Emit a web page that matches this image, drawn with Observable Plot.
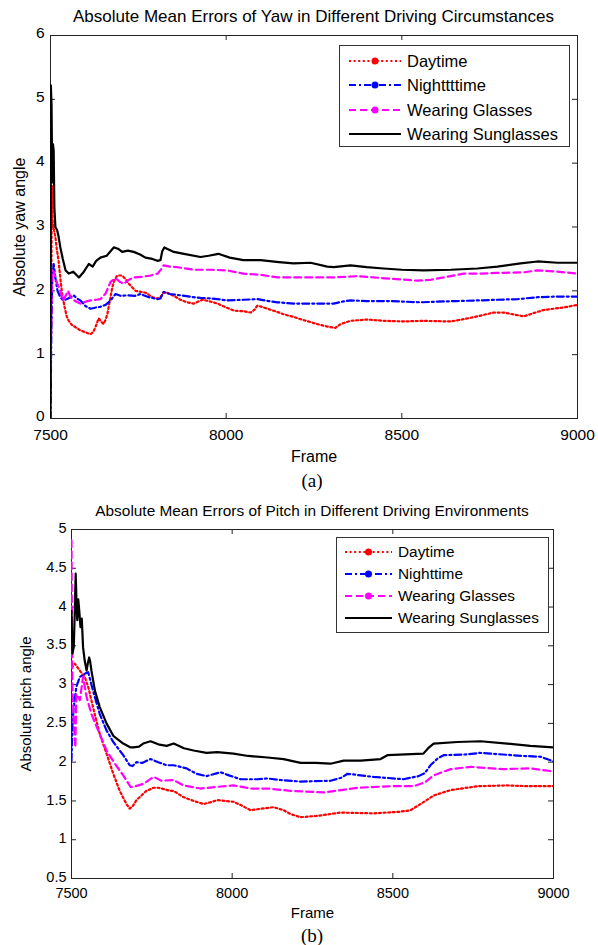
<!DOCTYPE html>
<html>
<head>
<meta charset="utf-8">
<script src="https://cdn.jsdelivr.net/npm/d3@7"></script>
<script src="https://cdn.jsdelivr.net/npm/@observablehq/plot@0.6"></script>
<style>
  html, body { margin: 0; padding: 0; background: #fff; }
  #page { position: relative; width: 598px; height: 945px; overflow: hidden; font-family: "Liberation Sans", Arial, Helvetica, sans-serif; color: #000; }
  .title { position: absolute; text-align: center; white-space: nowrap; line-height: 1; }
  .sub { position: absolute; font-family: "Liberation Serif", "Times New Roman", serif; font-size: 19px; line-height: 1; text-align: center; width: 40px; }
  .legend { position: absolute; background: #fff; border: 1px solid #333; box-sizing: border-box; }
  .legend svg { position: absolute; overflow: visible; }
  .legend span { position: absolute; }
  .chart { position: absolute; left: 0; }
</style>
</head>
<body>
<div id="page"></div>
<script>
// ---------- data ----------
const seriesNames = ["Daytime", "Nighttime", "Wearing Glasses", "Wearing Sunglasses"];
const legendNamesYaw = ["Daytime", "Nighttttime", "Wearing Glasses", "Wearing Sunglasses"];
const legendNamesPitch = ["Daytime", "Nighttime", "Wearing Glasses", "Wearing Sunglasses"];
const xTicks = [7500, 8000, 8500, 9000];
const yTicksYaw = [0, 1, 2, 3, 4, 5, 6];
const yTicksPitch = [0.5, 1, 1.5, 2, 2.5, 3, 3.5, 4, 4.5, 5];

// (a) Yaw: [frame, absolute mean error]
const yawDaytime = [[7500,0.3],[7502,2.0],[7504,3.65],[7506,3.1],[7510,2.95],[7514,2.84],[7518,2.65],[7523,2.47],[7528,2.2],[7533,1.95],[7540,1.75],[7546,1.6],[7552,1.53],[7560,1.47],[7571,1.43],[7585,1.38],[7600,1.35],[7614,1.32],[7622,1.36],[7628,1.43],[7637,1.57],[7644,1.52],[7651,1.48],[7657,1.55],[7662,1.64],[7669,1.85],[7676,2.06],[7683,2.18],[7690,2.24],[7704,2.24],[7714,2.18],[7723,2.11],[7742,2.0],[7771,1.97],[7790,1.9],[7804,1.88],[7813,1.9],[7822,1.98],[7832,1.97],[7851,1.92],[7870,1.86],[7889,1.82],[7908,1.8],[7932,1.86],[7950,1.84],[7975,1.8],[8000,1.74],[8022,1.69],[8050,1.68],[8070,1.66],[8080,1.7],[8089,1.77],[8117,1.72],[8140,1.68],[8165,1.63],[8193,1.59],[8215,1.55],[8240,1.51],[8265,1.47],[8288,1.44],[8311,1.42],[8326,1.48],[8354,1.53],[8402,1.55],[8450,1.53],[8505,1.52],[8560,1.53],[8639,1.52],[8680,1.56],[8715,1.6],[8761,1.66],[8790,1.66],[8809,1.64],[8847,1.6],[8875,1.65],[8904,1.7],[8961,1.74],[9000,1.78]];
const yawNighttime = [[7500,0],[7502,1.2],[7505,2.2],[7509,2.42],[7514,2.2],[7520,2.0],[7528,1.9],[7537,1.85],[7550,1.88],[7566,1.93],[7575,1.88],[7585,1.85],[7600,1.76],[7614,1.72],[7630,1.74],[7642,1.75],[7657,1.78],[7671,1.85],[7685,1.95],[7700,1.92],[7719,1.93],[7740,1.92],[7756,1.95],[7780,1.9],[7804,1.87],[7813,1.88],[7822,1.98],[7840,1.95],[7870,1.93],[7908,1.9],[7927,1.89],[7960,1.88],[8003,1.85],[8050,1.86],[8089,1.87],[8120,1.84],[8146,1.82],[8193,1.8],[8250,1.8],[8306,1.8],[8330,1.83],[8354,1.85],[8400,1.84],[8468,1.84],[8553,1.82],[8600,1.83],[8658,1.84],[8720,1.85],[8772,1.86],[8830,1.87],[8886,1.9],[8940,1.91],[9000,1.91]];
const yawGlasses = [[7500,0.6],[7502,1.4],[7504,2.32],[7509,2.3],[7514,2.21],[7520,2.1],[7528,2.0],[7535,1.85],[7543,1.92],[7550,2.0],[7557,1.9],[7570,1.84],[7585,1.8],[7600,1.83],[7614,1.85],[7630,1.86],[7642,1.87],[7657,1.96],[7671,2.14],[7685,2.2],[7695,2.15],[7708,2.11],[7722,2.17],[7737,2.21],[7760,2.22],[7785,2.24],[7805,2.27],[7815,2.34],[7822,2.4],[7840,2.38],[7861,2.37],[7908,2.33],[7960,2.33],[8003,2.32],[8049,2.27],[8100,2.25],[8146,2.21],[8212,2.21],[8306,2.21],[8374,2.23],[8420,2.21],[8468,2.19],[8543,2.16],[8580,2.17],[8619,2.21],[8676,2.27],[8720,2.27],[8772,2.28],[8847,2.29],[8886,2.32],[8943,2.3],[9000,2.27]];
const yawSunglasses = [[7500,0],[7501,5.22],[7503,4.9],[7505,3.7],[7507,4.3],[7509,4.2],[7511,3.3],[7514,3.0],[7519,2.95],[7523,2.85],[7528,2.68],[7535,2.5],[7543,2.32],[7552,2.27],[7565,2.3],[7581,2.21],[7595,2.3],[7609,2.42],[7620,2.38],[7630,2.47],[7642,2.52],[7660,2.55],[7680,2.68],[7692,2.66],[7704,2.61],[7720,2.63],[7737,2.61],[7755,2.57],[7770,2.52],[7790,2.5],[7804,2.47],[7813,2.48],[7818,2.62],[7824,2.68],[7851,2.61],[7880,2.58],[7927,2.53],[7950,2.55],[7978,2.58],[8010,2.52],[8049,2.48],[8098,2.48],[8150,2.45],[8192,2.43],[8240,2.44],[8288,2.38],[8306,2.37],[8354,2.4],[8400,2.37],[8448,2.35],[8500,2.33],[8562,2.32],[8640,2.33],[8715,2.35],[8772,2.38],[8838,2.43],[8886,2.46],[8943,2.44],[9000,2.44]];

// (b) Pitch: [frame, absolute mean error]
const pitchDaytime = [[7500,3.22],[7510,3.27],[7526,3.18],[7541,3.1],[7552,2.97],[7567,2.71],[7588,2.36],[7609,2.11],[7630,1.85],[7650,1.63],[7671,1.46],[7681,1.4],[7690,1.43],[7702,1.51],[7733,1.63],[7756,1.67],[7770,1.67],[7790,1.65],[7806,1.63],[7818,1.63],[7848,1.55],[7880,1.5],[7911,1.46],[7930,1.48],[7954,1.51],[8004,1.49],[8030,1.44],[8057,1.38],[8090,1.4],[8129,1.42],[8160,1.38],[8182,1.33],[8213,1.29],[8270,1.31],[8337,1.35],[8440,1.34],[8520,1.36],[8555,1.38],[8586,1.46],[8627,1.57],[8680,1.64],[8764,1.69],[8856,1.7],[8920,1.69],[9000,1.69]];
const pitchNighttime = [[7500,2.02],[7503,2.5],[7507,2.71],[7515,2.97],[7526,3.1],[7541,3.14],[7552,3.16],[7567,2.92],[7588,2.62],[7609,2.41],[7630,2.26],[7661,2.09],[7681,1.96],[7690,1.95],[7702,2.0],[7720,1.99],[7746,2.04],[7770,2.0],[7796,1.96],[7818,1.96],[7858,1.92],[7889,1.85],[7920,1.82],[7964,1.87],[7990,1.83],[8026,1.78],[8079,1.78],[8110,1.79],[8150,1.77],[8213,1.75],[8306,1.76],[8340,1.8],[8359,1.85],[8400,1.83],[8440,1.81],[8533,1.78],[8580,1.82],[8600,1.86],[8617,1.96],[8640,2.05],[8658,2.09],[8732,2.1],[8770,2.12],[8804,2.11],[8907,2.08],[8960,2.07],[9000,2.01]];
const pitchGlasses = [[7500,4.86],[7501,4.0],[7503,2.97],[7507,2.54],[7512,2.19],[7515,2.88],[7526,2.8],[7536,3.1],[7547,2.84],[7562,2.62],[7588,2.36],[7609,2.15],[7635,1.98],[7661,1.83],[7684,1.68],[7692,1.68],[7723,1.72],[7756,1.81],[7780,1.76],[7818,1.77],[7848,1.7],[7901,1.66],[7950,1.68],[8004,1.7],[8060,1.66],[8110,1.66],[8182,1.63],[8285,1.61],[8340,1.64],[8389,1.67],[8493,1.69],[8564,1.69],[8600,1.74],[8627,1.83],[8680,1.91],[8742,1.94],[8845,1.91],[8928,1.92],[9000,1.88]];
const pitchSunglasses = [[7500,3.95],[7503,3.4],[7507,3.48],[7510,3.9],[7513,4.43],[7516,4.0],[7518,3.83],[7521,4.1],[7524,3.96],[7528,3.74],[7532,3.85],[7536,3.48],[7541,3.31],[7547,3.18],[7551,3.28],[7555,3.35],[7558,3.3],[7562,3.18],[7573,2.92],[7588,2.71],[7609,2.5],[7630,2.34],[7661,2.24],[7684,2.19],[7692,2.19],[7710,2.2],[7723,2.24],[7746,2.27],[7770,2.23],[7796,2.21],[7818,2.24],[7850,2.18],[7880,2.15],[7920,2.12],[7954,2.13],[8004,2.11],[8050,2.08],[8110,2.06],[8160,2.04],[8213,1.99],[8260,1.99],[8306,1.98],[8347,2.02],[8400,2.02],[8462,2.04],[8483,2.09],[8595,2.11],[8610,2.18],[8627,2.24],[8701,2.26],[8773,2.27],[8856,2.24],[8928,2.21],[9000,2.19]];

// ---------- styles ----------
const lineStyles = [
  {color: "#ff0000", dash: "2,2.6", marker: true},
  {color: "#0000ff", dash: "7,3,2,3", marker: true},
  {color: "#ff00ff", dash: "7,4", marker: true},
  {color: "#000000", dash: null, marker: false}
];

const page = document.getElementById("page");

function addDiv(cls, css, text) {
  const d = document.createElement("div");
  d.className = cls;
  Object.assign(d.style, css);
  if (text != null) d.textContent = text;
  page.appendChild(d);
  return d;
}

function makeChart(cfg) {
  const innerH = cfg.height - cfg.marginTop - cfg.marginBottom;
  const innerW = 598 - cfg.marginLeft - cfg.marginRight;
  const yT = cfg.yTicks;
  const marks = [
    Plot.frame({stroke: "#222", strokeWidth: 1}),
    Plot.axisX({ticks: xTicks, tickSize: 0, tickPadding: cfg.xPad, tickFormat: d3.format("d"), label: null, fontSize: cfg.tickFont}),
    Plot.axisY({ticks: yT, tickSize: 0, tickPadding: cfg.yPad, dy: cfg.yDy, tickFormat: d => String(d), label: null, fontSize: cfg.tickFont}),
    // axis titles
    Plot.text(["Frame"], {frameAnchor: "bottom", dy: cfg.xLabelDy, text: d => d, fontSize: cfg.labelFont, lineAnchor: "middle", textAnchor: "middle"}),
    Plot.text([cfg.yLabel], {frameAnchor: "left", dx: cfg.yLabelDx, rotate: -90, text: d => d, fontSize: cfg.labelFont, lineAnchor: "middle", textAnchor: "middle"}),
    // MATLAB-style inward ticks on all four sides
    Plot.tickX(xTicks, {x: d => d, insetTop: innerH - 5, stroke: "#222"}),
    Plot.tickX(xTicks, {x: d => d, insetBottom: innerH - 5, stroke: "#222"}),
    Plot.tickY(yT, {y: d => d, insetRight: innerW - 5, stroke: "#222"}),
    Plot.tickY(yT, {y: d => d, insetLeft: innerW - 5, stroke: "#222"})
  ];
  cfg.series.forEach((s, i) => {
    const st = lineStyles[i];
    marks.push(Plot.line(s, {x: d => d[0], y: d => d[1], stroke: st.color, strokeWidth: 2.2, strokeDasharray: st.dash, clip: true, strokeLinejoin: "round"}));
  });
  const svg = Plot.plot({
    width: 598,
    height: cfg.height,
    marginTop: cfg.marginTop,
    marginBottom: cfg.marginBottom,
    marginLeft: cfg.marginLeft,
    marginRight: cfg.marginRight,
    x: {domain: [7500, 9000], ticks: xTicks},
    y: {domain: cfg.yDomain, ticks: yT},
    style: {fontFamily: "'Liberation Sans', Arial, sans-serif", fontSize: cfg.tickFont + "px", color: "#000", background: "transparent", overflow: "visible"},
    marks
  });
  const wrap = addDiv("chart", {top: cfg.top + "px"});
  wrap.appendChild(svg);
}

function makeLegend(cfg) {
  const box = addDiv("legend", {left: cfg.left + "px", top: cfg.top + "px", width: cfg.width + "px", height: cfg.height + "px"});
  cfg.names.forEach((name, i) => {
    const st = lineStyles[i];
    const cy = cfg.firstRow + i * cfg.rowGap;
    const ns = "http://www.w3.org/2000/svg";
    const svg = document.createElementNS(ns, "svg");
    svg.setAttribute("width", cfg.sampleW);
    svg.setAttribute("height", 10);
    svg.style.left = cfg.sampleX + "px";
    svg.style.top = (cy - 5) + "px";
    const ln = document.createElementNS(ns, "line");
    ln.setAttribute("x1", 0); ln.setAttribute("x2", cfg.sampleW);
    ln.setAttribute("y1", 5); ln.setAttribute("y2", 5);
    ln.setAttribute("stroke", st.color);
    ln.setAttribute("stroke-width", 2);
    if (st.dash) ln.setAttribute("stroke-dasharray", st.dash);
    svg.appendChild(ln);
    if (st.marker) {
      const c = document.createElementNS(ns, "circle");
      c.setAttribute("cx", cfg.sampleW / 2); c.setAttribute("cy", 5); c.setAttribute("r", 3.5);
      c.setAttribute("fill", st.color);
      svg.appendChild(c);
    }
    box.appendChild(svg);
    const t = document.createElement("span");
    t.textContent = name;
    Object.assign(t.style, {left: cfg.textX + "px", top: (cy - cfg.font * 0.55) + "px", fontSize: cfg.font + "px", lineHeight: "1.1", whiteSpace: "nowrap"});
    box.appendChild(t);
  });
}

// ----- (a) Yaw -----
addDiv("title", {left: "50px", width: "527px", top: "8px", fontSize: "17px"}, "Absolute Mean Errors of Yaw in Different Driving Circumstances");
makeChart({
  top: 25, height: 440, marginTop: 10, marginBottom: 47, marginLeft: 50, marginRight: 21,
  yDomain: [0, 6], yTicks: yTicksYaw, yLabel: "Absolute yaw angle",
  tickFont: 15.5, labelFont: 16, xPad: 10, yPad: 6, yDy: -2, xLabelDy: 38, yLabelDx: -31,
  series: [yawDaytime, yawNighttime, yawGlasses, yawSunglasses]
});
makeLegend({left: 339, top: 45, width: 231, height: 102, names: legendNamesYaw, firstRow: 15, rowGap: 24.3, sampleX: 9, sampleW: 52, textX: 67, font: 16.5});
addDiv("sub", {left: "292px", top: "471px"}, "(a)");

// ----- (b) Pitch -----
addDiv("title", {left: "71px", width: "482px", top: "503px", fontSize: "15.4px"}, "Absolute Mean Errors of Pitch in Different Driving Environments");
makeChart({
  top: 519, height: 404, marginTop: 10, marginBottom: 45, marginLeft: 71, marginRight: 45,
  yDomain: [0.5, 5], yTicks: yTicksPitch, yLabel: "Absolute pitch angle",
  tickFont: 14.5, labelFont: 15, xPad: 9, yPad: 5, yDy: -1, xLabelDy: 35, yLabelDx: -45,
  series: [pitchDaytime, pitchNighttime, pitchGlasses, pitchSunglasses]
});
makeLegend({left: 336, top: 537, width: 213, height: 96, names: legendNamesPitch, firstRow: 14, rowGap: 22, sampleX: 8, sampleW: 47, textX: 61, font: 15.4});
addDiv("sub", {left: "292px", top: "926px"}, "(b)");
</script>
</body>
</html>
